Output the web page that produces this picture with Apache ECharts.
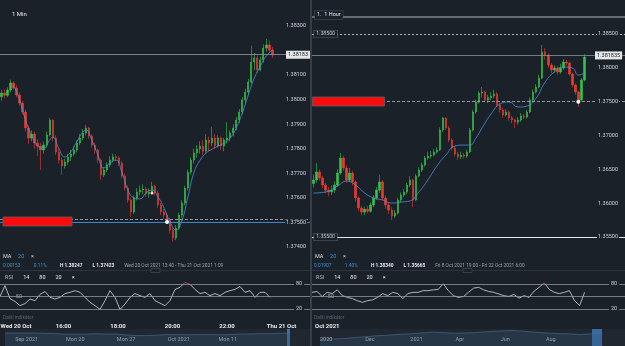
<!DOCTYPE html>
<html>
<head>
<meta charset="utf-8">
<title>GBP/USD 1 Min / 1 Hour</title>
<script src="https://cdn.jsdelivr.net/npm/echarts@6/dist/echarts.min.js"></script>
<style>
html,body{margin:0;padding:0;background:#1b2129;}
#chart{width:625px;height:346px;}
#err{position:absolute;left:0;top:0;color:#ff0;font:9px monospace;white-space:pre-wrap;width:620px;}
</style>
</head>
<body>
<div id="chart"></div>
<div id="err"></div>
<script>
// ---------- left panel (1 Min) ----------
// candles: [open, close, low, high]
var candlesL = [
 [1.38012,1.38027,1.37995,1.38040],[1.38027,1.38018,1.38005,1.38042],[1.38018,1.38039,1.38010,1.38050],
 [1.38039,1.38068,1.38030,1.38082],[1.38068,1.38048,1.38040,1.38075],[1.38048,1.38019,1.38010,1.38060],
 [1.38019,1.37986,1.37975,1.38030],[1.37986,1.37950,1.37940,1.37995],[1.37950,1.37885,1.37870,1.37960],
 [1.37885,1.37844,1.37820,1.37895],[1.37844,1.37860,1.37830,1.37875],[1.37860,1.37824,1.37800,1.37870],
 [1.37824,1.37811,1.37770,1.37840],[1.37811,1.37795,1.37714,1.37825],[1.37795,1.37815,1.37780,1.37830],
 [1.37815,1.37856,1.37805,1.37870],[1.37856,1.37917,1.37850,1.37925],[1.37917,1.37844,1.37830,1.37920],
 [1.37844,1.37787,1.37775,1.37855],[1.37787,1.37754,1.37740,1.37800],[1.37754,1.37730,1.37693,1.37765],
 [1.37730,1.37746,1.37720,1.37760],[1.37746,1.37767,1.37735,1.37780],[1.37767,1.37779,1.37750,1.37795],
 [1.37779,1.37795,1.37770,1.37810],[1.37795,1.37824,1.37785,1.37835],[1.37824,1.37844,1.37815,1.37860],
 [1.37844,1.37864,1.37835,1.37880],[1.37864,1.37885,1.37855,1.37898],[1.37885,1.37852,1.37840,1.37890],
 [1.37852,1.37815,1.37805,1.37860],[1.37815,1.37795,1.37780,1.37825],[1.37795,1.37754,1.37740,1.37800],
 [1.37754,1.37693,1.37673,1.37760],[1.37693,1.37714,1.37685,1.37725],[1.37714,1.37734,1.37705,1.37745],
 [1.37734,1.37754,1.37725,1.37770],[1.37754,1.37767,1.37745,1.37780],[1.37767,1.37763,1.37750,1.37778],
 [1.37763,1.37742,1.37730,1.37770],[1.37742,1.37689,1.37680,1.37750],[1.37689,1.37640,1.37630,1.37700],
 [1.37640,1.37591,1.37580,1.37650],[1.37591,1.37543,1.37523,1.37600],[1.37543,1.37600,1.37535,1.37610],
 [1.37600,1.37624,1.37590,1.37640],[1.37624,1.37632,1.37610,1.37650],[1.37632,1.37636,1.37615,1.37655],
 [1.37636,1.37616,1.37605,1.37645],[1.37616,1.37624,1.37600,1.37640],[1.37624,1.37648,1.37615,1.37665],
 [1.37648,1.37620,1.37610,1.37655],[1.37620,1.37571,1.37560,1.37630],[1.37571,1.37543,1.37530,1.37580],
 [1.37543,1.37530,1.37515,1.37555],[1.37530,1.37510,1.37495,1.37540],[1.37510,1.37469,1.37455,1.37520],
 [1.37469,1.37437,1.37423,1.37480],[1.37437,1.37477,1.37428,1.37490],[1.37477,1.37530,1.37470,1.37540],
 [1.37530,1.37579,1.37520,1.37590],[1.37579,1.37640,1.37570,1.37650],[1.37640,1.37705,1.37630,1.37715],
 [1.37705,1.37754,1.37695,1.37765],[1.37754,1.37783,1.37740,1.37800],[1.37783,1.37799,1.37765,1.37815],
 [1.37799,1.37811,1.37780,1.37830],[1.37811,1.37790,1.37775,1.37835],[1.37790,1.37836,1.37780,1.37860],
 [1.37836,1.37824,1.37790,1.37850],[1.37824,1.37844,1.37810,1.37889],[1.37844,1.37812,1.37800,1.37860],
 [1.37812,1.37844,1.37805,1.37855],[1.37844,1.37811,1.37795,1.37850],[1.37811,1.37836,1.37790,1.37845],
 [1.37836,1.37844,1.37820,1.37909],[1.37844,1.37864,1.37830,1.37875],[1.37864,1.37885,1.37850,1.37900],
 [1.37885,1.37917,1.37875,1.37930],[1.37917,1.37950,1.37905,1.37962],[1.37950,1.37999,1.37940,1.38010],
 [1.37999,1.38031,1.37985,1.38045],[1.38031,1.38072,1.38020,1.38085],[1.38072,1.38153,1.38065,1.38220],
 [1.38153,1.38170,1.38120,1.38190],[1.38170,1.38121,1.38109,1.38180],[1.38121,1.38162,1.38115,1.38175],
 [1.38162,1.38210,1.38150,1.38225],[1.38210,1.38223,1.38195,1.38247],[1.38223,1.38202,1.38190,1.38240],
 [1.38202,1.38182,1.38170,1.38215]
];
// MA 20 read at some candles: [candle index, value]
var maL = [
 [4,1.38060],[6,1.37999],[8,1.37917],[10,1.37856],[12,1.37811],[14,1.37803],[16,1.37836],[17,1.37848],
 [19,1.37803],[21,1.37767],[23,1.37787],[25,1.37828],[27,1.37868],[28,1.37877],[30,1.37836],[32,1.37775],
 [34,1.37722],[36,1.37742],[38,1.37754],[40,1.37705],[42,1.37632],[44,1.37600],[46,1.37596],[48,1.37620],
 [50,1.37632],[52,1.37604],[54,1.37559],[56,1.37502],[58,1.37469],[60,1.37510],[62,1.37608],[64,1.37705],
 [66,1.37754],[68,1.37783],[70,1.37799],[72,1.37811],[74,1.37824],[76,1.37844],[78,1.37885],[80,1.37946],
 [82,1.38019],[84,1.38088],[86,1.38137],[88,1.38178],[90,1.38202]
];
var rsiL = [50,76,45,38,28,33,44,40,55,62,48,44,48,57,60,64,60,48,36,28,19,40,64,48,19,32,48,57,52,48,
 57,40,34,28,40,67,72,84,79,67,57,60,52,57,52,60,64,67,74,60,64,48,60,60,48];
var yHiddenL = [1.373, 1.382, 1.384];   // ticks not shown (covered / outside)
var lastL = 1.38183;
var blueLevelL = 1.37502;
var dashLevelL = 1.37514;
var timeTicksL = [840,960,1080,1200,1320,1440];
var timeLabelsL = ['Wed 20 Oct','16:00','18:00','20:00','22:00','Thu 21 Oct'];
var navDaysL = ['Sep 10','Sep 13','Sep 14','Sep 15','Sep 16','Sep 17','Sep 20','Sep 21','Sep 22','Sep 23',
 'Sep 24','Sep 27','Sep 28','Sep 29','Sep 30','Oct 1','Oct 4','Oct 5','Oct 6','Oct 7','Oct 8','Oct 11',
 'Oct 12','Oct 13','Oct 14','Oct 15','Oct 18','Oct 19','Oct 20','',''];
var navL = [1.3835,1.3830,1.3835,1.3830,1.3780,1.3740,1.3660,1.3660,1.3680,1.3730,1.3680,1.3705,1.3545,
 1.3470,1.3470,1.3540,1.3610,1.3620,1.3590,1.3610,1.3615,1.3595,1.3610,1.3670,1.3690,1.3745,1.3735,1.3800,1.3815];
var navTickIdxL = [1,6,11,16,21];
var navTickTextL = ['Sep 2021','Mon 20','Mon 27','Oct 2021','Mon 11'];

// ---------- right panel (1 Hour) ----------
var candlesR = [
 [1.36290,1.36342,1.36230,1.36420],[1.36342,1.36460,1.36300,1.36593],[1.36460,1.36372,1.36330,1.36500],
 [1.36372,1.36268,1.36220,1.36400],[1.36268,1.36194,1.36150,1.36300],[1.36194,1.36165,1.36100,1.36240],
 [1.36165,1.36194,1.36120,1.36260],[1.36194,1.36268,1.36150,1.36320],[1.36268,1.36446,1.36240,1.36500],
 [1.36446,1.36667,1.36420,1.36741],[1.36667,1.36519,1.36480,1.36700],[1.36519,1.36342,1.36300,1.36560],
 [1.36342,1.36446,1.36310,1.36520],[1.36446,1.36313,1.36260,1.36480],[1.36313,1.36076,1.36020,1.36340],
 [1.36076,1.35928,1.35880,1.36100],[1.35928,1.35869,1.35820,1.35960],[1.35869,1.35910,1.35820,1.35950],
 [1.35910,1.35880,1.35850,1.35960],[1.35880,1.35973,1.35860,1.36010],[1.35973,1.36076,1.35940,1.36120],
 [1.36076,1.36194,1.36050,1.36240],[1.36194,1.36313,1.36150,1.36420],[1.36313,1.36076,1.36040,1.36340],
 [1.36076,1.35973,1.35920,1.36110],[1.35973,1.35899,1.35840,1.36010],[1.35899,1.35810,1.35751,1.35940],
 [1.35810,1.35854,1.35780,1.35900],[1.35854,1.36047,1.35830,1.36080],[1.36047,1.36120,1.36010,1.36160],
 [1.36120,1.36165,1.36090,1.36210],[1.36165,1.36268,1.36130,1.36300],[1.36268,1.36342,1.36240,1.36400],
 [1.36342,1.36047,1.35943,1.36360],[1.36047,1.36401,1.36030,1.36430],[1.36401,1.36490,1.36380,1.36530],
 [1.36490,1.36564,1.36460,1.36600],[1.36564,1.36667,1.36540,1.36700],[1.36667,1.36697,1.36640,1.36760],
 [1.36697,1.36712,1.36660,1.36770],[1.36712,1.36756,1.36690,1.36800],[1.36756,1.36786,1.36730,1.36830],
 [1.36786,1.37081,1.36770,1.37120],[1.37081,1.37258,1.37050,1.37273],[1.37258,1.37111,1.37080,1.37270],
 [1.37111,1.36933,1.36900,1.37140],[1.36933,1.36815,1.36780,1.36960],[1.36815,1.36726,1.36690,1.36850],
 [1.36726,1.36682,1.36640,1.36760],[1.36682,1.36712,1.36650,1.36760],[1.36712,1.36697,1.36660,1.36740],
 [1.36697,1.36756,1.36670,1.36790],[1.36756,1.37081,1.36740,1.37110],[1.37081,1.37347,1.37060,1.37380],
 [1.37347,1.37495,1.37320,1.37530],[1.37495,1.37628,1.37470,1.37660],[1.37628,1.37643,1.37560,1.37717],
 [1.37643,1.37525,1.37490,1.37660],[1.37525,1.37560,1.37480,1.37600],[1.37560,1.37584,1.37520,1.37640],
 [1.37584,1.37613,1.37550,1.37680],[1.37613,1.37451,1.37420,1.37640],[1.37451,1.37377,1.37340,1.37480],
 [1.37377,1.37303,1.37260,1.37410],[1.37303,1.37347,1.37280,1.37390],[1.37347,1.37258,1.37220,1.37370],
 [1.37258,1.37229,1.37180,1.37290],[1.37229,1.37199,1.37111,1.37250],[1.37199,1.37229,1.37160,1.37270],
 [1.37229,1.37288,1.37200,1.37330],[1.37288,1.37273,1.37240,1.37320],[1.37273,1.37347,1.37250,1.37380],
 [1.37347,1.37525,1.37330,1.37560],[1.37525,1.37643,1.37500,1.37680],[1.37643,1.37717,1.37620,1.37760],
 [1.37717,1.37850,1.37700,1.37900],[1.37850,1.38234,1.37830,1.38340],[1.38234,1.38190,1.38120,1.38290],
 [1.38190,1.38042,1.38000,1.38210],[1.38042,1.37968,1.37920,1.38070],[1.37968,1.37997,1.37930,1.38040],
 [1.37997,1.37938,1.37900,1.38030],[1.37938,1.37997,1.37910,1.38060],[1.37997,1.38086,1.37970,1.38130],
 [1.38086,1.38071,1.38030,1.38120],[1.38071,1.37909,1.37880,1.38090],[1.37909,1.37746,1.37710,1.37930],
 [1.37746,1.37643,1.37600,1.37770],[1.37643,1.37525,1.37421,1.37660],[1.37525,1.37820,1.37500,1.37850],
 [1.37820,1.38160,1.37800,1.38200]
];
var maR = [
 [0,1.36150],[4,1.36165],[8,1.36254],[11,1.36327],[14,1.36268],[17,1.36150],[20,1.36076],[23,1.36047],
 [26,1.36002],[29,1.36017],[32,1.36032],[35,1.36165],[38,1.36342],[41,1.36549],[44,1.36712],[47,1.36845],
 [50,1.36859],[52,1.36859],[54,1.36963],[56,1.37111],[59,1.37318],[62,1.37465],[65,1.37495],[68,1.37421],
 [71,1.37436],[74,1.37554],[77,1.37791],[80,1.37938],[83,1.38012],[86,1.37997],[88,1.37894],[90,1.37924]
];
var rsiR = [60,62,50,60,57,66,52,48,45,40,36,40,42,48,57,52,60,57,45,57,60,60,64,64,66,67,81,64,52,48,
 50,60,70,72,66,62,60,56,52,50,55,46,52,48,63,72,83,67,60,57,60,64,40,28,60];
var yHiddenR = [1.35, 1.39];
var lastR = 1.381835;
var topLevelR = 1.3875;
var dashTopR = 1.385;
var dashLevelR = 1.375;
var bottomLevelR = 1.355;
var navDaysR = ['Oct 20','','Nov','','Dec','','Jan 21','','Feb','','Mar','','Apr','','May','','Jun','',
 'Jul','','Aug','','Sep','','Oct','','',''];
var navR = [1.292,1.298,1.305,1.318,1.330,1.345,1.352,1.365,1.372,1.385,1.395,1.388,1.380,1.385,1.392,
 1.405,1.412,1.418,1.410,1.395,1.385,1.375,1.372,1.362,1.372,1.380];
var navTickIdxR = [0,4,8,12,16,20];
var navTickTextR = ['2020','Dec','2021','Apr','Jun','Aug'];

var BG = '#1b2129';
var FONT = 'Roboto, sans-serif';
var UP = '#35c24a', DOWN = '#ec3a2f';

function idx(n){ var a=[]; for(var i=0;i<n;i++) a.push(i); return a; }
function near(list, v){ for (var i=0;i<list.length;i++) if (Math.abs(list[i]-v) < 1e-7) return true; return false; }

var chart = echarts.init(document.getElementById('chart'));

function boxLabel(text, dist){
  return {show:true, position:'start', distance:dist, formatter:text, color:'#c9ced4', fontSize:5.2,
    fontFamily:FONT, backgroundColor:BG, borderColor:'#5c636d', borderWidth:0.6, padding:[1,2]};
}
function rsiLines(){
  return {symbol:'none', silent:true, precision:2, lineStyle:{color:'#8f969f', width:0.8, type:'solid'}, data:[
    {yAxis:80, label:{show:true, position:'end', distance:-16, formatter:'80', color:'#c9ced4', fontSize:5.5, backgroundColor:BG, padding:[0,2]}},
    {yAxis:50, label:{show:true, position:'start', distance:-22, formatter:'50', color:'#9aa1a9', fontSize:5.5}},
    {yAxis:20, label:{show:true, position:'end', distance:-16, formatter:'20', color:'#c9ced4', fontSize:5.5, backgroundColor:BG, padding:[0,2]}}
  ]};
}
// RSI stroke: red above the 80 line (y = 284 px in a 280..315 px panel), light grey below
function rsiStroke(){
  return new echarts.graphic.LinearGradient(0, 280, 0, 315, [
    {offset:0, color:'#e8453c'}, {offset:0.114, color:'#e8453c'},
    {offset:0.115, color:'#d5d9de'}, {offset:1, color:'#d5d9de'}], true);
}
function navAxis(grid, days, tickIdx, tickText){
  return {gridIndex:grid, type:'category', data:days, boundaryGap:false,
    axisLine:{show:false}, axisTick:{show:false}, splitLine:{show:false},
    axisLabel:{inside:true, margin:3, align:'left', color:'#b9bec5', fontSize:5.5, fontFamily:FONT,
      interval:function(i){ return tickIdx.indexOf(i) >= 0; },
      formatter:function(v, i){ var k = tickIdx.indexOf(i); return k >= 0 ? tickText[k] : ''; }}};
}
function priceAxis(grid, min, max, step, hiddenTicks, margin){
  return {gridIndex:grid, type:'value', position:'right', min:min, max:max, interval:step, z:20,
    axisLine:{show:false}, axisTick:{show:false}, splitLine:{show:false},
    axisLabel:{inside:true, margin:margin, color:'#d0d4d9', fontSize:5.5, fontFamily:FONT,
      backgroundColor:BG, padding:[0,1],
      formatter:function(v){ return near(hiddenTicks, v) ? '' : v.toFixed(5); }}};
}
function candleStyle(){
  return {color:UP, color0:DOWN, borderColor:UP, borderColor0:DOWN, borderWidth:0.6};
}
function g(o){ o.outerBoundsMode = 'none'; o.containLabel = false; return o; }

var option = {
  backgroundColor: BG,
  animation: false,
  textStyle: {fontFamily: FONT},
  grid: [
    g({left:0, top:1.44, width:310, height:270.16}),
    g({left:0, top:280, width:310, height:35}),
    g({left:5, top:329, width:305, height:17, show:true, backgroundColor:'#202731', borderWidth:0}),
    g({left:312, top:0.17, width:313, height:270.67}),
    g({left:312, top:280, width:313, height:35}),
    g({left:320, top:329, width:305, height:17, show:true, backgroundColor:'#202731', borderWidth:0}),
    g({left:-45.5, top:280, width:381.5, height:35})
  ],
  xAxis: [
    {gridIndex:0, type:'category', data:idx(103), show:false},
    {gridIndex:1, type:'category', data:idx(63), boundaryGap:false, show:false},
    {gridIndex:6, type:'value', min:720, max:1560, interval:120, position:'bottom',
      axisLine:{show:false}, axisTick:{show:false}, splitLine:{show:false},
      axisLabel:{margin:8, color:'#e8eaed', fontSize:6, fontWeight:'bold', fontFamily:FONT, hideOverlap:false,
        formatter:function(v){
          var k = timeTicksL.indexOf(v);
          if (k < 0) return '';
          return k === 0 ? '{a|' + timeLabelsL[k] + '}' : timeLabelsL[k];
        },
        rich:{a:{padding:[0,0,0,14], color:'#e8eaed', fontSize:6, fontWeight:'bold', fontFamily:FONT}}}},
    navAxis(2, navDaysL, navTickIdxL, navTickTextL),
    {gridIndex:3, type:'category', data:idx(104), show:false},
    {gridIndex:4, type:'category', data:idx(63), boundaryGap:false, show:false},
    navAxis(5, navDaysR, navTickIdxR, navTickTextR)
  ],
  yAxis: [
    priceAxis(0, 1.373, 1.384, 0.001, yHiddenL, 3),
    {gridIndex:1, type:'value', min:5.6, max:89.6, show:false},
    {gridIndex:2, type:'value', min:1.2, max:1.44, show:false},
    priceAxis(3, 1.35, 1.39, 0.005, yHiddenR, 6),
    {gridIndex:4, type:'value', min:5.6, max:89.6, show:false},
    {gridIndex:5, type:'value', min:1.2, max:1.44, show:false},
    {gridIndex:6, type:'value', show:false}
  ],
  series: [
    {type:'candlestick', xAxisIndex:0, yAxisIndex:0, data:candlesL, barWidth:1.8, itemStyle:candleStyle()},
    {type:'line', xAxisIndex:0, yAxisIndex:0, data:maL, symbol:'none', smooth:true,
      lineStyle:{color:'#4a8fd6', width:0.8},
      markLine:{symbol:'none', silent:true, precision:6, data:[
        {yAxis:blueLevelL, lineStyle:{color:'#3f86d0', width:1, type:'solid'}, label:{show:false}},
        {yAxis:dashLevelL, lineStyle:{color:'#aeb3ba', width:0.8, type:[3,2]}, label:{show:false}},
        {yAxis:lastL, lineStyle:{color:'#8f98a3', width:0.8, type:'solid'},
          label:{show:true, position:'end', distance:-24, formatter:lastL.toFixed(5), color:'#1b2129',
            backgroundColor:'#e4e6e9', padding:[1,2], fontSize:5.5, fontFamily:FONT}}
      ]},
      markPoint:{silent:true, label:{show:false}, data:[
        {coord:[55, blueLevelL], symbol:'circle', symbolSize:4, itemStyle:{color:'#ffffff'}},
        {coord:[50, 1.37620], symbol:'circle', symbolSize:3, itemStyle:{color:'#f3d6dc'}}
      ]}},
    {type:'line', xAxisIndex:1, yAxisIndex:1, data:rsiL, symbol:'none',
      lineStyle:{width:0.8, color:rsiStroke()}, markLine:rsiLines()},
    {type:'line', xAxisIndex:3, yAxisIndex:2, data:navL, symbol:'none',
      lineStyle:{color:'#4f6f92', width:0.6}, areaStyle:{color:'rgba(58,88,120,0.45)'}},
    {type:'candlestick', xAxisIndex:4, yAxisIndex:3, data:candlesR, barWidth:2, itemStyle:candleStyle()},
    {type:'line', xAxisIndex:4, yAxisIndex:3, data:maR, symbol:'none', smooth:true,
      lineStyle:{color:'#4a8fd6', width:0.8},
      markLine:{symbol:'none', silent:true, precision:6, data:[
        {yAxis:topLevelR, lineStyle:{color:'#7d848d', width:1.6, type:'solid'}, label:{show:false}},
        {yAxis:dashTopR, lineStyle:{color:'#c4c8cd', width:0.9, type:[2,2]}, label:boxLabel('1.38500', -25)},
        {yAxis:lastR, lineStyle:{color:'#8a929c', width:0.8, type:'solid'},
          label:{show:true, position:'end', distance:-30, formatter:'1.381835', color:'#1b2129',
            backgroundColor:'#e4e6e9', padding:[1,2], fontSize:5.5, fontFamily:FONT}},
        {yAxis:dashLevelR, lineStyle:{color:'#aeb3ba', width:0.8, type:[3,2]}, label:{show:false}},
        {yAxis:bottomLevelR, lineStyle:{color:'#e4e6e8', width:1.2, type:'solid'}, label:boxLabel('1.35500', -25)}
      ]},
      markPoint:{silent:true, label:{show:false}, data:[
        {coord:[88, dashLevelR], symbol:'circle', symbolSize:4, itemStyle:{color:'#ffffff'}}
      ]}},
    {type:'line', xAxisIndex:5, yAxisIndex:4, data:rsiR, symbol:'none',
      lineStyle:{width:0.8, color:rsiStroke()}, markLine:rsiLines()},
    {type:'line', xAxisIndex:6, yAxisIndex:5, data:navR, symbol:'none',
      lineStyle:{color:'#4f6f92', width:0.6}, areaStyle:{color:'rgba(58,88,120,0.45)'}}
  ],
  graphic: [
    {type:'line', shape:{x1:311, y1:0, x2:311, y2:346}, style:{stroke:'#545c66', lineWidth:1}, z:50},
    {type:'line', shape:{x1:0, y1:270.5, x2:310, y2:270.5}, style:{stroke:'#2c333d', lineWidth:1}},
    {type:'line', shape:{x1:312, y1:270.5, x2:625, y2:270.5}, style:{stroke:'#2c333d', lineWidth:1}},
    {type:'rect', shape:{x:151, y:268.5, width:9, height:4}, style:{fill:BG, stroke:'#4a525c', lineWidth:0.6}},
    {type:'rect', shape:{x:463, y:268.5, width:9, height:4}, style:{fill:BG, stroke:'#4a525c', lineWidth:0.6}},
    {type:'rect', shape:{x:287, y:329, width:3, height:17}, style:{fill:'rgba(60,130,205,0.8)'}},
    {type:'rect', shape:{x:592, y:329, width:10, height:17}, style:{fill:'rgba(60,130,205,0.75)'}},
    {type:'rect', shape:{x:3, y:217, width:69, height:9}, style:{fill:'#fb0b0b', stroke:'#5d5f66', lineWidth:0.8}, z:60},
    {type:'rect', shape:{x:312.5, y:97, width:72, height:9}, style:{fill:'#fb0b0b', stroke:'#5d5f66', lineWidth:0.8}, z:60},
    {type:'text', x:12, y:14, style:{text:'1 Min', fill:'#e6e8eb', font:'6px ' + FONT, textVerticalAlign:'middle'}},
    {type:'text', x:315, y:11, z:60, style:{text:'1.  1 Hour', fill:'#e6e8eb', font:'5.5px ' + FONT,
      backgroundColor:BG, borderColor:'#4a525c', borderWidth:0.6, padding:[1,2]}},
    {type:'text', x:3, y:257, style:{text:'{w|MA}  {b|20}  {w|\u00d7}', textVerticalAlign:'middle',
      rich:{w:{fill:'#d7dadf', font:'5.5px ' + FONT}, b:{fill:'#3d8fd9', font:'5.5px ' + FONT}}}},
    {type:'text', x:315, y:257, style:{text:'{w|MA}  {b|20}  {w|\u00d7}', textVerticalAlign:'middle',
      rich:{w:{fill:'#d7dadf', font:'5.5px ' + FONT}, b:{fill:'#3d8fd9', font:'5.5px ' + FONT}}}},
    {type:'text', x:3, y:266, style:{text:'{b|0.00153}    {b|0.11%}    {w|H 1.38247}   {w|L 1.37423}   {g|Wed 20 Oct 2021 13:40 - Thu 21 Oct 2021 1:09}',
      textVerticalAlign:'middle',
      rich:{w:{fill:'#e6e8eb', font:'bold 4.8px ' + FONT}, b:{fill:'#3d8fd9', font:'4.8px ' + FONT}, g:{fill:'#9aa1a9', font:'4.8px ' + FONT}}}},
    {type:'text', x:314, y:266, style:{text:'{b|0.01907}    {b|1.40%}    {w|H 1.38340}   {w|L 1.35665}   {g|Fri 8 Oct 2021 19:00 - Fri 22 Oct 2021 6:00}',
      textVerticalAlign:'middle',
      rich:{w:{fill:'#e6e8eb', font:'bold 4.8px ' + FONT}, b:{fill:'#3d8fd9', font:'4.8px ' + FONT}, g:{fill:'#9aa1a9', font:'4.8px ' + FONT}}}},
    {type:'text', x:5, y:278, style:{text:'{g|RSI}   {w|14}   {w|80}   {w|20}   {w|\u00d7}', textVerticalAlign:'middle',
      rich:{w:{fill:'#e6e8eb', font:'5.5px ' + FONT}, g:{fill:'#aeb4bb', font:'5.5px ' + FONT}}}},
    {type:'text', x:316, y:278, style:{text:'{g|RSI}   {w|14}   {w|80}   {w|20}   {w|\u00d7}', textVerticalAlign:'middle',
      rich:{w:{fill:'#e6e8eb', font:'5.5px ' + FONT}, g:{fill:'#aeb4bb', font:'5.5px ' + FONT}}}},
    {type:'text', x:3, y:318, style:{text:'Další indikátor', fill:'#5b636d', font:'4.8px ' + FONT, textVerticalAlign:'middle'}},
    {type:'text', x:314, y:318, style:{text:'Další indikátor', fill:'#5b636d', font:'4.8px ' + FONT, textVerticalAlign:'middle'}},
    {type:'text', x:315, y:326, style:{text:'Oct 2021', fill:'#e8eaed', font:'bold 6px ' + FONT, textVerticalAlign:'middle'}}
  ]
};
try {
  chart.setOption(option);
} catch (e) {
  document.getElementById('err').textContent = String(e && e.stack || e).slice(0, 900);
}
</script>
</body>
</html>
